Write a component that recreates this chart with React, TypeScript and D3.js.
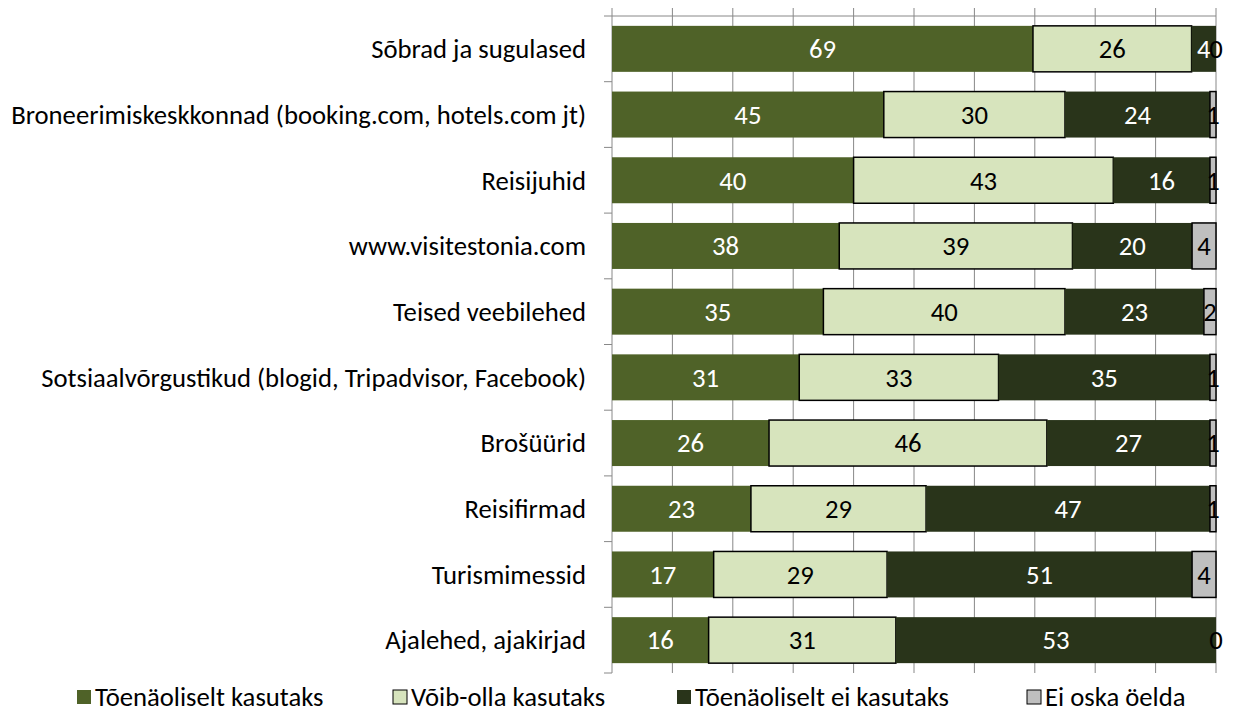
import React, { useRef, useEffect } from 'react';
import * as d3 from 'd3';

const categories = [
  'Sõbrad ja sugulased',
  'Broneerimiskeskkonnad (booking.com, hotels.com jt)',
  'Reisijuhid',
  'www.visitestonia.com',
  'Teised veebilehed',
  'Sotsiaalvõrgustikud (blogid, Tripadvisor, Facebook)',
  'Brošüürid',
  'Reisifirmad',
  'Turismimessid',
  'Ajalehed, ajakirjad',
];

const seriesNames = ['Tõenäoliselt kasutaks', 'Võib-olla kasutaks', 'Tõenäoliselt ei kasutaks', 'Ei oska öelda'];

const likely = [69, 45, 40, 38, 35, 31, 26, 23, 17, 16];
const maybe = [26, 30, 43, 39, 40, 33, 46, 29, 29, 31];
const unlikely = [4, 24, 16, 20, 23, 35, 27, 47, 51, 53];
const dontKnow = [0, 1, 1, 4, 2, 1, 1, 1, 4, 0];

const ticks = [0, 10, 20, 30, 40, 50, 60, 70, 80, 90, 100];

const fills = ['#4F6228', '#D7E4BD', '#29341A', '#BFBFBF'];
const strokes = ['none', '#000', 'none', '#000'];
const labelColors = ['#fff', '#000', '#fff', '#000'];

const FONT = "Carlito, Calibri, 'Liberation Sans Narrow', 'Noto Sans', sans-serif";

const App = () => {
  const svgRef = useRef(null);

  useEffect(() => {
    document.body.style.margin = '0';
    const svg = d3.select(svgRef.current);
    svg.selectAll('*').remove();

    const left = 612, right = 1216, top = 16, bottom = 673;

    const rows = categories.map((c, i) => ({
      cat: c, s0: likely[i], s1: maybe[i], s2: unlikely[i], s3: dontKnow[i],
    }));
    const keys = ['s0', 's1', 's2', 's3'];
    const stacked = d3.stack().keys(keys).offset(d3.stackOffsetExpand)(rows);

    const x = d3.scaleLinear().domain([0, 100]).range([left, right]);
    const y = d3.scaleBand().domain(categories).range([top, bottom]).paddingInner(0.3).paddingOuter(0.15);

    // gridlines + top ticks
    svg.append('g').selectAll('line')
      .data(ticks).enter().append('line')
      .attr('x1', d => x(d)).attr('x2', d => x(d))
      .attr('y1', top - 8).attr('y2', bottom)
      .attr('stroke', '#888').attr('stroke-width', 1);

    svg.append('line')
      .attr('x1', left).attr('x2', right).attr('y1', top).attr('y2', top)
      .attr('stroke', '#888');

    // category ticks on the left
    const step = (bottom - top) / categories.length;
    svg.append('g').selectAll('line')
      .data(d3.range(categories.length + 1)).enter().append('line')
      .attr('x1', left - 8).attr('x2', left)
      .attr('y1', d => top + d * step).attr('y2', d => top + d * step)
      .attr('stroke', '#888');

    // bars
    stacked.forEach((layer, k) => {
      const g = svg.append('g');
      g.selectAll('rect').data(layer).enter().append('rect')
        .attr('x', d => x(d[0] * 100))
        .attr('width', d => Math.max(0, x(d[1] * 100) - x(d[0] * 100)))
        .attr('y', d => y(d.data.cat))
        .attr('height', y.bandwidth())
        .attr('fill', fills[k])
        .attr('stroke', strokes[k])
        .attr('stroke-width', 1.5);
    });

    stacked.forEach((layer, k) => {
      svg.append('g').selectAll('text').data(layer).enter().append('text')
        .attr('x', d => x((d[0] + d[1]) * 50))
        .attr('y', d => y(d.data.cat) + y.bandwidth() / 2)
        .attr('dy', '0.35em')
        .attr('text-anchor', 'middle')
        .attr('font-family', FONT)
        .attr('font-size', 26.7)
        .attr('fill', labelColors[k])
        .text(d => d.data[keys[k]]);
    });

    // category labels
    svg.append('g').selectAll('text').data(categories).enter().append('text')
      .attr('x', 586)
      .attr('y', d => y(d) + y.bandwidth() / 2)
      .attr('dy', '0.35em')
      .attr('text-anchor', 'end')
      .attr('font-family', FONT)
      .attr('font-size', 26.7)
      .attr('fill', '#000')
      .text(d => d);

    // legend
    const legendX = [77, 393, 677, 1027];
    const legend = svg.append('g').selectAll('g').data(seriesNames).enter().append('g')
      .attr('transform', (d, i) => `translate(${legendX[i]},697)`);
    legend.append('rect')
      .attr('x', 0).attr('y', -7).attr('width', 14).attr('height', 14)
      .attr('fill', (d, i) => fills[i])
      .attr('stroke', (d, i) => strokes[i]);
    legend.append('text')
      .attr('x', 18).attr('y', 0).attr('dy', '0.35em')
      .attr('font-family', FONT).attr('font-size', 26.7).attr('fill', '#000')
      .text(d => d);
  }, []);

  return <svg ref={svgRef} width={1242} height={718} style={{ display: 'block', background: '#fff' }} />;
};

export default App;
